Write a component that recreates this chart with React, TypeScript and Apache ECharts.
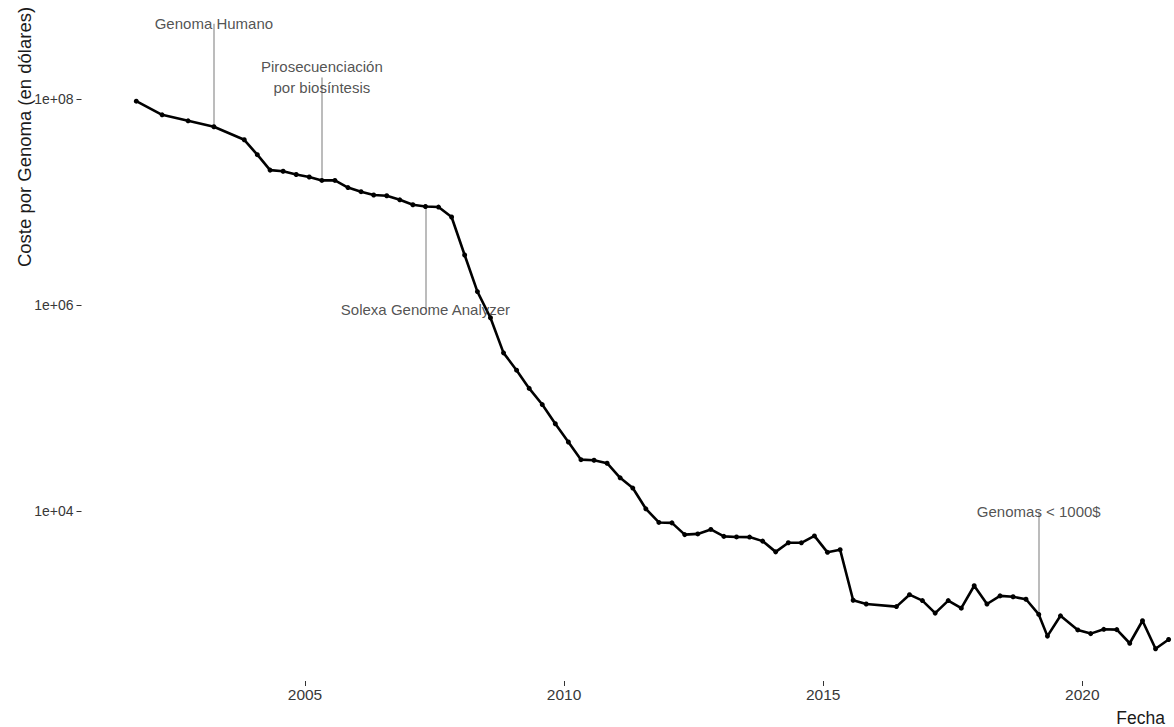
import { useEffect, useRef } from "react";
import * as echarts from "echarts";

// Coste de secuenciación de un genoma humano (dólares), por fecha
const DATES = [
  "2001-09-30", "2002-03-31", "2002-09-30", "2003-03-31", "2003-10-31",
  "2004-01-31", "2004-04-30", "2004-07-31", "2004-10-31",
  "2005-01-31", "2005-04-30", "2005-07-31", "2005-10-31",
  "2006-01-31", "2006-04-30", "2006-07-31", "2006-10-31",
  "2007-01-31", "2007-04-30", "2007-07-31", "2007-10-31",
  "2008-01-31", "2008-04-30", "2008-07-31", "2008-10-31",
  "2009-01-31", "2009-04-30", "2009-07-31", "2009-10-31",
  "2010-01-31", "2010-04-30", "2010-07-31", "2010-10-31",
  "2011-01-31", "2011-04-30", "2011-07-31", "2011-10-31",
  "2012-01-31", "2012-04-30", "2012-07-31", "2012-10-31",
  "2013-01-31", "2013-04-30", "2013-07-31", "2013-10-31",
  "2014-01-31", "2014-04-30", "2014-07-31", "2014-10-31",
  "2015-01-31", "2015-04-30", "2015-07-31", "2015-10-31",
  "2016-05-31", "2016-08-31", "2016-11-30",
  "2017-02-28", "2017-05-31", "2017-08-31", "2017-11-30",
  "2018-02-28", "2018-05-31", "2018-08-31", "2018-11-30",
  "2019-02-28", "2019-04-30", "2019-07-31", "2019-11-30",
  "2020-02-29", "2020-05-31", "2020-08-31", "2020-11-30",
  "2021-02-28", "2021-05-31", "2021-08-31",
];

const COST = [
  95300000, 70200000, 61400000, 53800000, 40200000,
  28800000, 20400000, 19900000, 18500000,
  17500000, 16200000, 16200000, 13800000,
  12600000, 11700000, 11500000, 10500000,
  9410000, 9050000, 8930000, 7150000,
  3060000, 1350000, 752000, 343000,
  233000, 155000, 108000, 70300,
  46800, 31500, 31100, 29100,
  21000, 16700, 10500, 7740,
  7670, 5900, 5990, 6620,
  5670, 5600, 5580, 5100,
  4010, 4920, 4910, 5730,
  3970, 4210, 1360, 1250,
  1180, 1540, 1350,
  1020, 1350, 1140, 1880,
  1250, 1500, 1470, 1390,
  990, 610, 960, 700,
  645, 710, 705, 520,
  860, 460, 565,
];

// Hitos tecnológicos: fecha, texto y lado de la curva (+1 encima, -1 debajo)
const MILESTONE_DATES = ["2003-03-31", "2005-04-30", "2007-04-30", "2019-02-28"];
const MILESTONE_LABELS = [
  "Genoma Humano",
  "Pirosecuenciación\npor biosíntesis",
  "Solexa Genome Analyzer",
  "Genomas < 1000$",
];
const MILESTONE_SIDE = [1, 1, -1, 1];

// Marcas de los ejes
const YEAR_TICKS = [2005, 2010, 2015, 2020];
const COST_TICKS = [1e4, 1e6, 1e8];

// Extensión visible de los ejes
const X_MIN = "2000-09-09";
const X_MAX = "2021-10-08";
const Y_MIN = 223.6;
const Y_MAX = 9.146e8;

const FONT = "'Liberation Sans', Arial, Helvetica, sans-serif";

const toTime = (s: string) => Date.parse(s + "T00:00:00Z");

function formatPower(v: number) {
  const e = Math.round(Math.log10(v));
  return "1e+" + String(e).padStart(2, "0");
}

export default function App() {
  const ref = useRef<HTMLDivElement>(null);

  useEffect(() => {
    if (!ref.current) return;
    const chart = echarts.init(ref.current, undefined, { renderer: "svg" });

    const series = DATES.map((d, i) => [toTime(d), COST[i]]);
    const yearTimes = YEAR_TICKS.map((y) => Date.UTC(y, 0, 1));

    const milestoneValue = (d: string) => COST[DATES.indexOf(d)];
    const segments = MILESTONE_DATES.map((d, i) => {
      const t = toTime(d);
      const v = milestoneValue(d);
      return [
        { coord: [t, v] },
        { coord: [t, v * Math.pow(10, MILESTONE_SIDE[i])] },
      ];
    });
    const labels = MILESTONE_DATES.map((d, i) => ({
      name: MILESTONE_LABELS[i],
      value: [toTime(d), milestoneValue(d) * Math.pow(10, MILESTONE_SIDE[i])],
    }));

    chart.setOption({
      animation: false,
      backgroundColor: "#ffffff",
      textStyle: { fontFamily: FONT },
      grid: {
        left: 81.5,
        right: 0,
        top: 0,
        bottom: 46,
        containLabel: false,
        outerBoundsMode: "none",
      },
      xAxis: {
        // fecha como marca de tiempo (ms, UTC)
        type: "value",
        min: toTime(X_MIN),
        max: toTime(X_MAX),
        axisLine: { show: false },
        splitLine: { show: false },
        axisTick: {
          show: true,
          length: 5,
          lineStyle: { color: "#333333", width: 1 },
          customValues: yearTimes,
        },
        axisLabel: {
          customValues: yearTimes,
          formatter: (v: number) => String(new Date(v).getUTCFullYear()),
          color: "#383838",
          fontSize: 15.5,
          margin: 5,
          fontFamily: FONT,
        },
      },
      yAxis: {
        type: "log",
        logBase: 10,
        min: Y_MIN,
        max: Y_MAX,
        axisLine: { show: false },
        splitLine: { show: false },
        minorTick: { show: false },
        axisTick: {
          show: true,
          length: 5,
          lineStyle: { color: "#333333", width: 1 },
          customValues: COST_TICKS,
        },
        axisLabel: {
          customValues: COST_TICKS,
          formatter: (v: number) => formatPower(v),
          color: "#383838",
          fontSize: 14,
          margin: 8,
          fontFamily: FONT,
        },
      },
      series: [
        {
          name: "Coste por Genoma",
          type: "line",
          data: series,
          symbol: "circle",
          symbolSize: 5,
          showSymbol: true,
          showAllSymbol: true,
          lineStyle: { color: "#000000", width: 2.6 },
          itemStyle: { color: "#000000" },
          z: 3,
          silent: true,
          markLine: {
            silent: true,
            symbol: ["none", "none"],
            label: { show: false },
            lineStyle: { color: "#a6a6a6", width: 1.5, type: "solid" },
            emphasis: { disabled: true },
            z: 2,
            data: segments,
          },
        },
        {
          name: "Hitos",
          type: "scatter",
          data: labels,
          symbolSize: 1,
          itemStyle: { color: "rgba(0,0,0,0)" },
          silent: true,
          z: 4,
          label: {
            show: true,
            position: "inside",
            formatter: "{b}",
            color: "#262626",
            fontSize: 15,
            lineHeight: 21,
            fontFamily: FONT,
            align: "center",
          },
        },
      ],
      graphic: [
        {
          type: "text",
          x: 24,
          y: 137,
          rotation: Math.PI / 2,
          style: {
            text: "Coste por Genoma (en dólares)",
            fontSize: 18.5,
            fontFamily: FONT,
            fill: "#1a1a1a",
            align: "center",
            verticalAlign: "middle",
          },
        },
        {
          type: "text",
          x: 1165,
          y: 718,
          style: {
            text: "Fecha",
            fontSize: 17.5,
            fontFamily: FONT,
            fill: "#1a1a1a",
            align: "right",
            verticalAlign: "middle",
          },
        },
      ],
    });

    return () => chart.dispose();
  }, []);

  return (
    <div
      ref={ref}
      style={{ position: "absolute", left: 0, top: 0, width: 1174, height: 727 }}
    />
  );
}
